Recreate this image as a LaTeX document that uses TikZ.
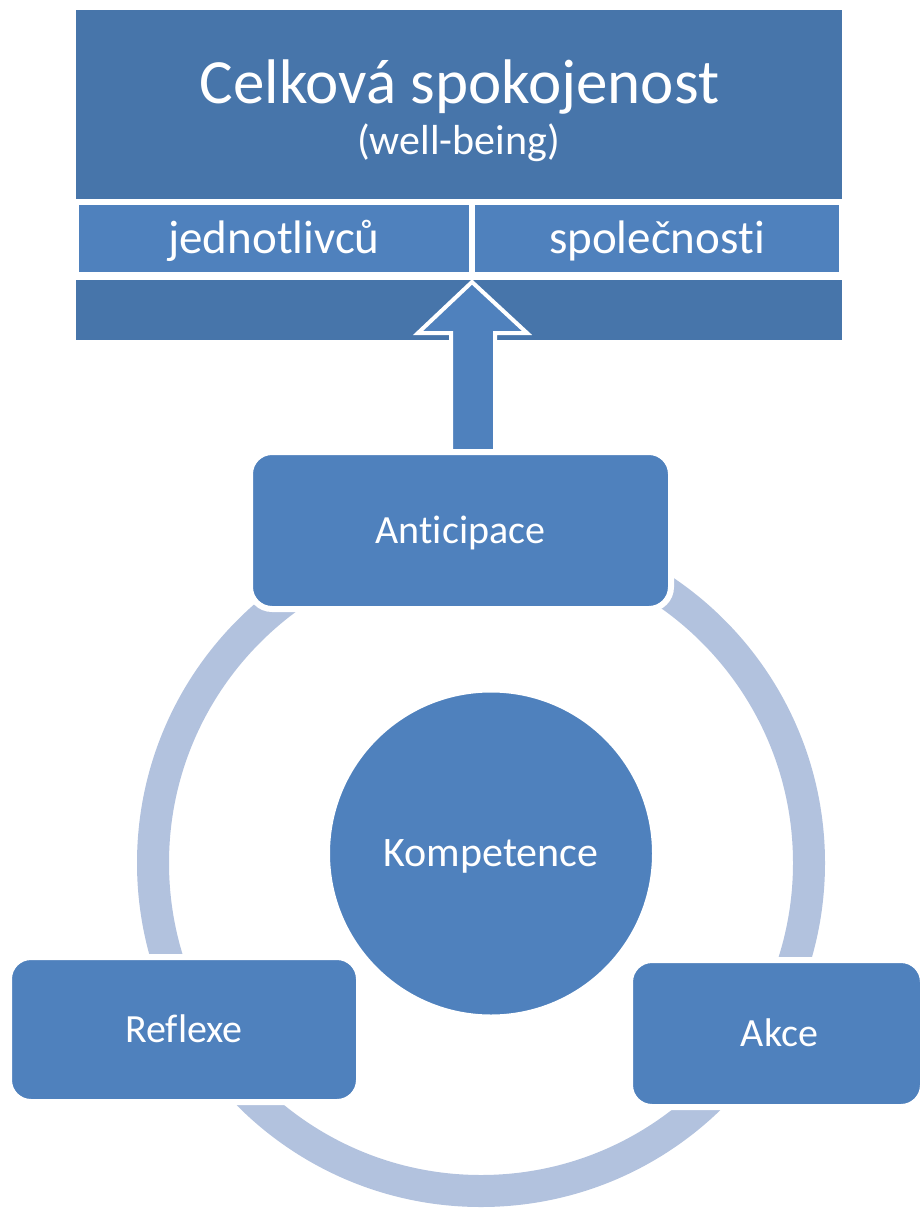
\documentclass[tikz,border=0pt]{standalone}
\usepackage{fontspec}
\setmainfont[Ligatures=NoCommon]{Carlito}
\usepackage{tikz}
\definecolor{darkblue}{HTML}{4775AA}
\definecolor{boxblue}{HTML}{4F81BD}
\definecolor{ringblue}{HTML}{B2C2DE}

\begin{document}
\begin{tikzpicture}[x=1pt,y=-1pt,
		bar/.style={fill=darkblue,inner sep=0pt},
		cell/.style={fill=boxblue,text=white,inner sep=0pt,font=\fontsize{47}{50}\selectfont,text height=30pt,text depth=0pt},
		item/.style={fill=boxblue,draw=white,line width=6pt,rounded corners=22pt,text=white,inner sep=0pt,font=\fontsize{40}{44}\selectfont,text height=25.6pt,text depth=0pt},
		core/.style={circle,fill=boxblue,draw=white,line width=6pt,text=white,inner sep=0pt,font=\fontsize{42}{46}\selectfont,text height=26.9pt,text depth=0pt},
		ring/.style={draw=ringblue,line width=32pt},
		bigarrow/.style={fill=boxblue,draw=white,line width=4pt,line join=miter}]
		\useasboundingbox (0,0) rectangle (922,1209);
		\draw[ring] (481,863) circle (328);
		\node[bar,minimum width=766,minimum height=189] (wb) at (459,104.5) {};
		\node[anchor=base,text=white,font=\fontsize{63}{66}\selectfont] (title) at (459.5,104) {Celková spokojenost};
		\node[anchor=base,text=white,font=\fontsize{42}{46}\selectfont] (sub) at (458.5,155) {(well-being)};
		\node[cell,minimum width=390,minimum height=67] (jed) at (274,238.5) {jednotlivců};
		\node[cell,minimum width=364,minimum height=67] (spol) at (657,238.5) {společnosti};
		\node[bar,minimum width=766,minimum height=60] (base) at (459,310) {};
		\coordinate (tip) at (472,282);
		\draw[bigarrow] (tip) -- ++(55,51) -- ++(-32,0) -- ++(0,125) -- ++(-44,0) -- ++(0,-125) -- ++(-33,0) -- cycle;
		\node[item,minimum width=421,minimum height=157] (ant) at (460.5,530.5) {Anticipace};
		\node[item,minimum width=350,minimum height=145] (refl) at (184,1029.5) {Reflexe};
		\node[item,minimum width=293,minimum height=147,text width=287,align=center,xshift=0pt] (akce) at (776.5,1033.5) {\hspace*{6pt}Akce};
		\node[core,minimum size=328] (komp) at (491,853.5) {Kompetence};
	\end{tikzpicture}
\end{document}
